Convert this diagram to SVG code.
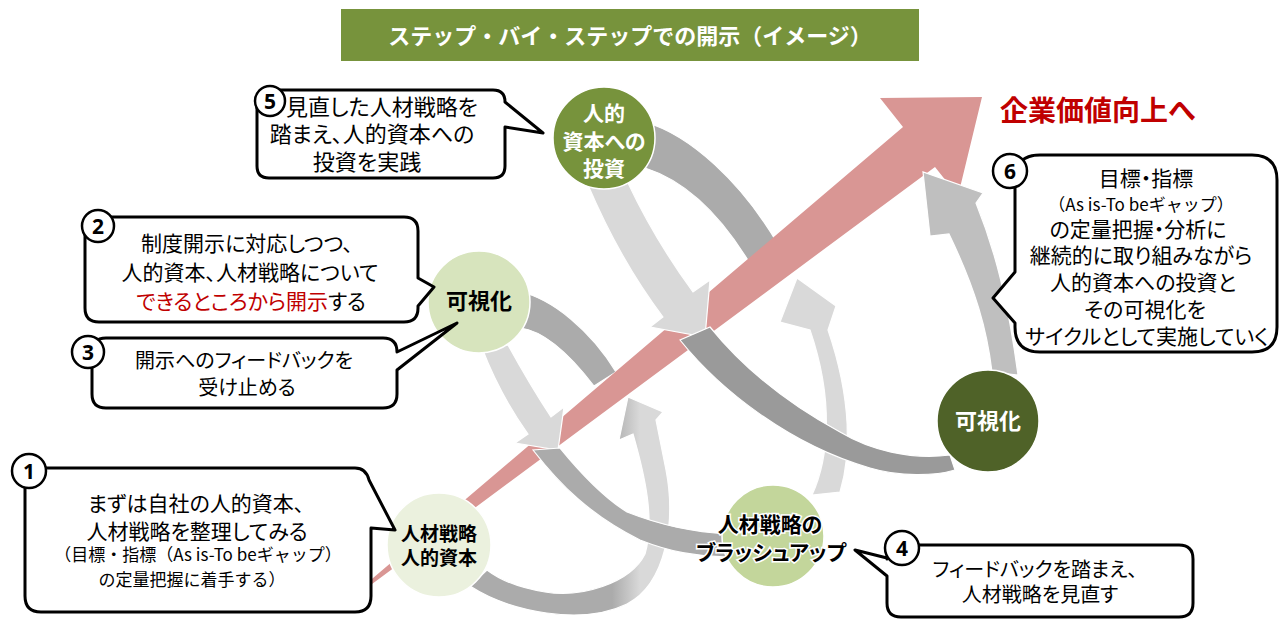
<svg xmlns="http://www.w3.org/2000/svg" width="1286" height="627" viewBox="0 0 1286 627">
<defs>
<style>
.t{font-family:"Noto Sans CJK JP","Noto Sans",sans-serif;font-feature-settings:"palt";fill:#000;}
.np{font-feature-settings:normal;}
.b{font-weight:700;}
.w{fill:#fff;}
.band{stroke:#fff;stroke-width:1.2;stroke-linejoin:miter;}
.dk{fill:#ABABAB;}
.dk2{fill:#9A9A9A;}
.lt{fill:#D9D9D9;}
.md{fill:#BFBFBF;}
.bub{fill:#fff;stroke:#000;stroke-width:3;stroke-linejoin:round;}
.num{fill:#fff;stroke:#000;stroke-width:2.5;}
.nt{font-family:"Noto Sans","Liberation Sans",sans-serif;font-weight:700;font-size:21px;fill:#000;text-anchor:middle;}
.node{stroke:#fff;stroke-width:1.5;}
</style>
<linearGradient id="g1" gradientUnits="userSpaceOnUse" x1="612" y1="0" x2="640" y2="0">
<stop offset="0" stop-color="#ABABAB"/>
<stop offset="1" stop-color="#D9D9D9"/>
</linearGradient>
</defs>
<rect width="1286" height="627" fill="#fff"/>

<g id="title">
<rect x="341" y="9" width="578" height="52" fill="#77933C"/>
<text class="t np b w" x="630" y="44" font-size="22" text-anchor="middle">ステップ・バイ・ステップでの開示（イメージ）</text>
</g>

<g id="connectors">
<!-- behind red arrow -->
<path class="band dk" d="M520,292 C552,298 592,332 616,372 L594,386 C571,356 546,331 520,328 Z"/>
<path class="band dk" d="M645,122 C690,135 742,182 779,246 L749,262 C721,216 686,181 645,168 Z"/>
<path class="band" fill="url(#g1)" d="M470,586 C510,612 582,626 627,604 C666,584 676,522 666,470 L656,420 L663,412 L628,397 L619,440 L633,434 C645,476 655,520 645,554 C630,584 580,598 545,592 C520,588 500,580 487,570 Z"/>
<path class="band lt" d="M812,495 C829,458 834,400 810,330 L780,322 L797,278 L836,306 L828,330 C852,400 851,456 840,492 Z"/>
<!-- red main arrow -->
<polygon id="red-arrow" fill="#D99694" points="366,584 903,127 880,98 982,97 958,196 935,167 368,587"/>
<!-- in front of red arrow -->
<path class="band lt" d="M482,348 Q500,395 528,434 L515,443 L558,450 L564,407 L551,417 Q530,385 508,345 Z"/>
<path class="band dk" d="M533,450 C560,485 590,515 640,540 C670,552 695,556 728,557 L728,534 C690,532 660,525 627,512 C600,495 578,470 560,448 Z"/>
<path class="band lt" d="M588,185 Q620,260 663,317 L650,327 L705,337 L710,280 L693,292 Q655,240 628,183 Z"/>
<path class="band dk2" d="M680,340 C720,390 790,445 870,468 C900,477 935,476 955,470 L950,455 C910,460 870,450 840,432 C790,405 745,370 710,327 Z"/>
<path class="band md" d="M992,372 C987,330 976,290 949,234 L930,236 L923,172 L983,193 L976,203 C995,250 1008,300 1018,375 Z"/>
</g>

<g id="node-a">
<circle class="node" cx="439" cy="545" r="52" fill="#EBF1DE"/>
<text class="t b" x="439" y="541" font-size="19" text-anchor="middle">人材戦略</text>
<text class="t b" x="439" y="565" font-size="19" text-anchor="middle">人的資本</text>
</g>
<g id="node-b">
<circle class="node" cx="479" cy="302" r="51" fill="#D7E4BD"/>
<text class="t b" x="479" y="309" font-size="22" text-anchor="middle">可視化</text>
</g>
<g id="node-c">
<circle class="node" cx="604" cy="138" r="51" fill="#77933C"/>
<text class="t b w" x="604" y="121" font-size="21" text-anchor="middle">人的</text>
<text class="t b w" x="604" y="149" font-size="21" text-anchor="middle">資本への</text>
<text class="t b w" x="604" y="176" font-size="21" text-anchor="middle">投資</text>
</g>
<g id="node-d">
<circle class="node" cx="773" cy="536" r="51" fill="#C3D69B"/>
<text class="t b" x="770" y="532" font-size="21" text-anchor="middle" stroke="#fff" stroke-width="3" paint-order="stroke">人材戦略の</text>
<text class="t b" x="771" y="560" font-size="21" text-anchor="middle" stroke="#fff" stroke-width="3" paint-order="stroke">ブラッシュアップ</text>
</g>
<g id="node-e">
<circle class="node" cx="988" cy="421" r="51" fill="#4F6228"/>
<text class="t b w" x="988" y="429" font-size="22" text-anchor="middle">可視化</text>
</g>

<g id="goal">
<text class="t b" x="1000" y="121" font-size="28" style="fill:#C00000">企業価値向上へ</text>
</g>

<g id="bubble-5">
<path class="bub" d="M269,90 H493 Q505,90 505,102 L543,133 L505,127 V166 Q505,178 493,178 H269 Q257,178 257,166 V102 Q257,90 269,90 Z"/>
<circle class="num" cx="270" cy="101" r="15"/>
<text class="nt" x="270" y="109">5</text>
<text class="t" x="382" y="115" font-size="22" text-anchor="middle">見直した人材戦略を</text>
<text class="t" x="372" y="142" font-size="22" text-anchor="middle">踏まえ、人的資本への</text>
<text class="t" x="367" y="170" font-size="22" text-anchor="middle">投資を実践</text>
</g>

<g id="bubble-2">
<path class="bub" d="M99,217 H404 Q418,217 418,231 V278 L434,287 L418,306 V308 Q418,322 404,322 H99 Q85,322 85,308 V231 Q85,217 99,217 Z"/>
<circle class="num" cx="98" cy="226" r="16"/>
<text class="nt" x="98" y="234">2</text>
<text class="t" x="247" y="251" font-size="21" text-anchor="middle">制度開示に対応しつつ、</text>
<text class="t" x="250" y="280" font-size="21" text-anchor="middle">人的資本、人材戦略について</text>
<text class="t" x="251" y="309" font-size="21" text-anchor="middle"><tspan style="fill:#C00000">できるところから開示</tspan>する</text>
</g>

<g id="bubble-3">
<path class="bub" d="M106,338 H383 Q397,338 397,352 L457,323 L397,370 V394 Q397,408 383,408 H106 Q92,408 92,394 V352 Q92,338 106,338 Z"/>
<circle class="num" cx="88" cy="352" r="16"/>
<text class="nt" x="88" y="360">3</text>
<text class="t" x="244" y="368" font-size="20" text-anchor="middle">開示へのフィードバックを</text>
<text class="t" x="247" y="395" font-size="20" text-anchor="middle">受け止める</text>
</g>

<g id="bubble-1">
<path class="bub" d="M41,468 H355 Q366,468 369,480 L395,530 L371,528 V596 Q371,612 355,612 H41 Q25,612 25,596 V484 Q25,468 41,468 Z"/>
<circle class="num" cx="29" cy="471" r="17"/>
<text class="nt" x="29" y="479">1</text>
<text class="t" x="196" y="511" font-size="21" text-anchor="middle">まずは自社の人的資本、</text>
<text class="t" x="197" y="539" font-size="21" text-anchor="middle">人材戦略を整理してみる</text>
<text class="t np" x="198" y="561" font-size="17" text-anchor="middle">（目標・指標（As is-To beギャップ）</text>
<text class="t np" x="192" y="586" font-size="17" text-anchor="middle">の定量把握に着手する）</text>
</g>

<g id="bubble-4">
<path class="bub" d="M901,545 H1179 Q1193,545 1193,559 V603 Q1193,617 1179,617 H901 Q887,617 887,603 V576 L855,550 L887,558 V559 Q887,545 901,545 Z"/>
<circle class="num" cx="902" cy="548" r="17"/>
<text class="nt" x="902" y="556">4</text>
<text class="t" x="1035" y="577" font-size="20" text-anchor="middle">フィードバックを踏まえ、</text>
<text class="t" x="1040" y="602" font-size="20" text-anchor="middle">人材戦略を見直す</text>
</g>

<g id="bubble-6">
<path class="bub" d="M1040,155 H1252 Q1277,155 1277,180 V327 Q1277,352 1252,352 H1040 Q1015,352 1015,327 V323 L993,298 L1015,272 V180 Q1015,155 1040,155 Z"/>
<circle class="num" cx="1010" cy="171" r="17"/>
<text class="nt" x="1010" y="179">6</text>
<text class="t" x="1146" y="186" font-size="21" text-anchor="middle">目標・指標</text>
<text class="t np" x="1141" y="211" font-size="17" text-anchor="middle">（As is-To beギャップ）</text>
<text class="t" x="1138" y="237" font-size="21" text-anchor="middle">の定量把握・分析に</text>
<text class="t" x="1141" y="263" font-size="21" text-anchor="middle">継続的に取り組みながら</text>
<text class="t" x="1143" y="290" font-size="21" text-anchor="middle">人的資本への投資と</text>
<text class="t" x="1145" y="317" font-size="21" text-anchor="middle">その可視化を</text>
<text class="t" x="1147" y="344" font-size="21" text-anchor="middle">サイクルとして実施していく</text>
</g>
</svg>
